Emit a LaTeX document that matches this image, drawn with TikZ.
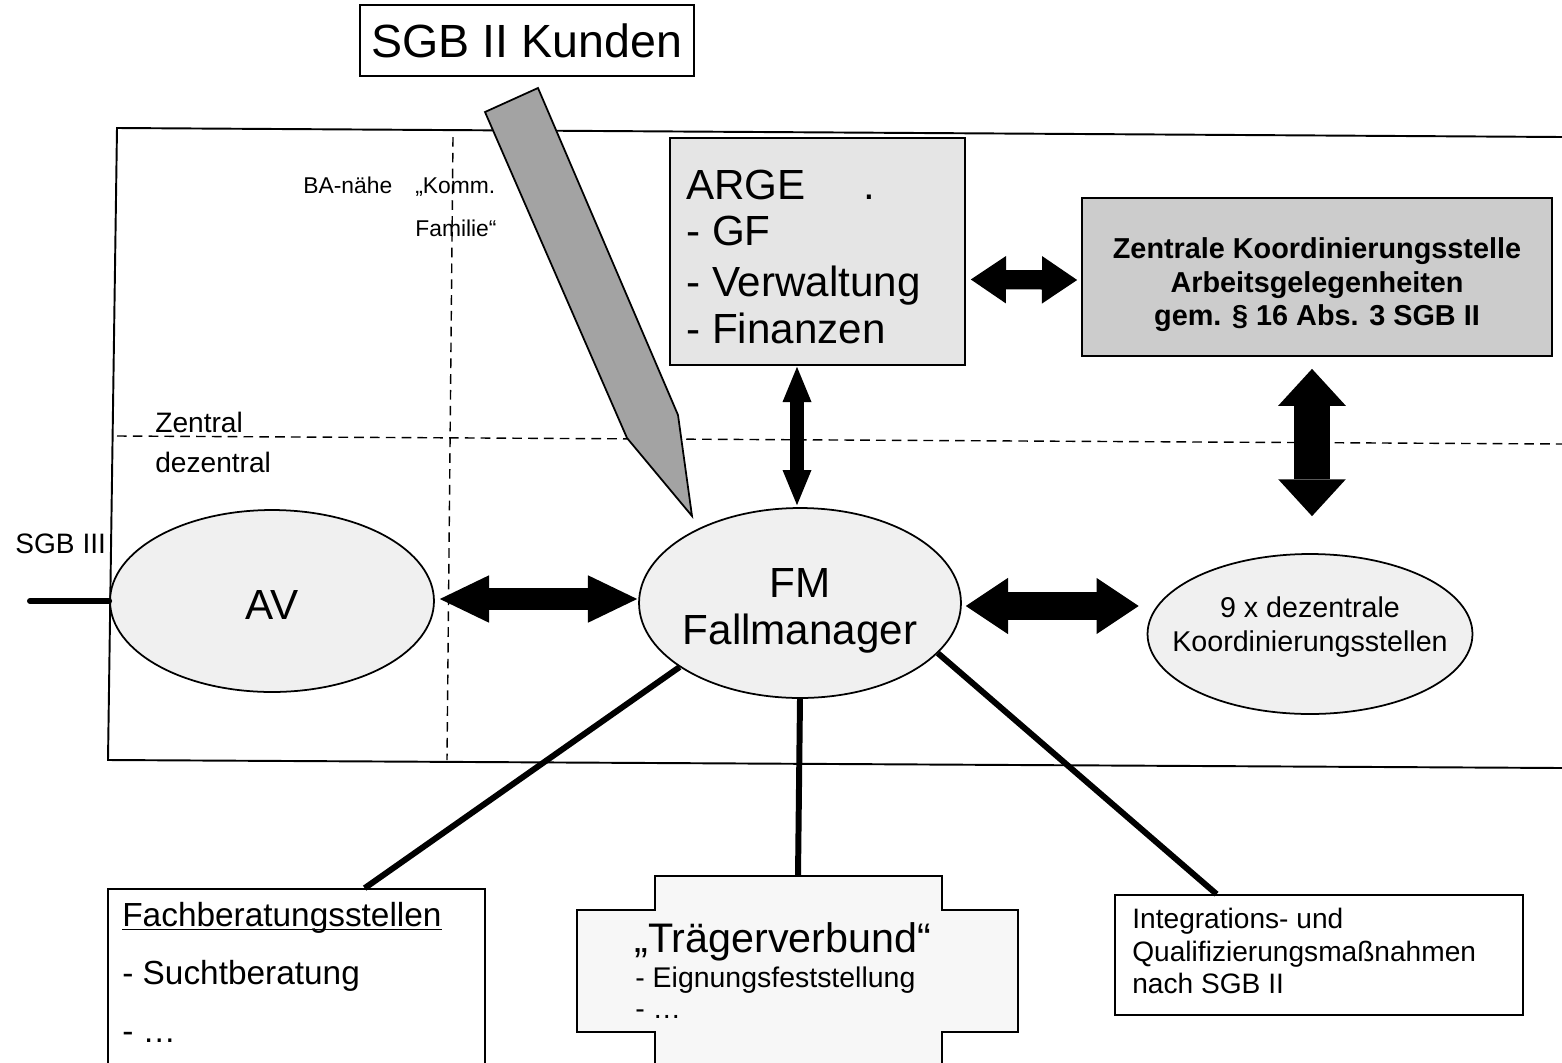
\documentclass[tikz,border=0pt]{standalone}
\usepackage{fontspec}
\setmainfont{Liberation Sans}
\usetikzlibrary{arrows.meta,calc,shapes.geometric}
\definecolor{pencilfill}{gray}{0.64}
\definecolor{zksfill}{gray}{0.80}
\definecolor{argefill}{gray}{0.90}
\definecolor{ellfill}{gray}{0.94}
\definecolor{tragfill}{gray}{0.97}
\tikzset{
  box/.style={draw, line width=1pt, rectangle, inner sep=0pt, fill=white},
  ell/.style={draw, line width=1pt, ellipse, inner sep=0pt, fill=ellfill},
  conn/.style={line width=3.4pt},
  txt/.style={inner sep=0pt, anchor=base west},
  ctxt/.style={inner sep=0pt, anchor=base},
  frame/.style={line width=1.1pt},
  grid/.style={line width=0.8pt, dash pattern=on 5.5pt off 3.5pt},
  dbl/.style n args={3}{line width=#1,
    {Triangle[width=#2,length=#3,line width=0pt]}-{Triangle[width=#2,length=#3,line width=0pt]}}
}
\newcommand{\fs}[2]{\fontsize{#1}{#2}\selectfont}
\newcommand{\myul}[1]{\setbox0\hbox{#1}\rlap{\rule[-2.4pt]{\wd0}{0.9pt}}\box0}
\begin{document}
\begin{tikzpicture}[x=0.02cm,y=-0.02cm]
\useasboundingbox (0,0) rectangle (1562,1062);
\clip (0,0) rectangle (1562,1062);

% frame and zone lines
\draw[frame] (1562,137) -- (117,128) -- (108,760) -- (1562,768);
\draw[grid] (117,436) -- (1562,444);
\draw[grid] (453,137) -- (447,760);

% zone labels
\node[txt] (ba) at (303,193) {\fs{13}{15}BA-nähe};
\node[txt] (komm) at (415,193) {\fs{13}{15}„Komm.};
\node[txt] (fam) at (415,236) {\fs{13}{15}Familie“};
\node[txt] (zen) at (155,432) {\fs{16}{19}Zentral};
\node[txt] (dezl) at (155,472) {\fs{16}{19}dezentral};
\node[txt] (sgb3) at (15,553) {\fs{16}{19}SGB III};

% customers box and pencil
\node[box, minimum width=6.68cm, minimum height=1.42cm] (kunden) at (527,40.5) {};
\node[ctxt] (kundentxt) at (527,57) {\fs{26.5}{30}SGB II Kunden};
\filldraw[fill=pencilfill, line width=1pt, line join=miter]
  (485,112) -- (538,88) -- (678,415) -- (692,516) -- (627,438) -- cycle;

% ARGE
\node[box, fill=argefill, minimum width=5.9cm, minimum height=4.54cm] (arge) at (817.5,251.5) {};
\node[txt] (a1) at (686,199) {\fs{24}{28}ARGE \hspace{26pt}.};
\node[txt] (a2) at (686,245) {\fs{24}{28}- GF};
\node[txt] (a3) at (686,296) {\fs{24}{28}- Verwaltung};
\node[txt] (a4) at (686,343) {\fs{24}{28}- Finanzen};

% Zentrale Koordinierungsstelle
\node[box, fill=zksfill, minimum width=9.4cm, minimum height=3.16cm] (zks) at (1317,277) {};
\node[ctxt] (z1) at (1317,258) {\fs{16.4}{19}\bfseries Zentrale Koordinierungsstelle};
\node[ctxt] (z2) at (1317,292) {\fs{16.4}{19}\bfseries Arbeitsgelegenheiten};
\node[ctxt] (z3) at (1317,325) {\fs{16.4}{19}\bfseries gem. § 16 Abs. 3 SGB II};

% ellipses
\node[ell, minimum width=6.48cm, minimum height=3.64cm] (av) at (272,601) {};
\node[ctxt] (avtxt) at (272,619) {\fs{24}{28}AV};
\node[ell, minimum width=6.44cm, minimum height=3.8cm] (fm) at (800,603) {};
\node[ctxt] (fm1) at (800,597) {\fs{24}{28}FM};
\node[ctxt] (fm2) at (800,644) {\fs{24}{28}Fallmanager};
\node[ell, minimum width=6.5cm, minimum height=3.2cm] (dez) at (1310,634) {};
\node[ctxt] (d1) at (1310,617) {\fs{16.3}{19}9 x dezentrale};
\node[ctxt] (d2) at (1310,651) {\fs{16.3}{19}Koordinierungsstellen};

% SGB III line
\coordinate (sgbend) at (30,601);
\draw[conn, line cap=round] (sgbend) -- (av.west);

% block arrows
\draw[dbl={13pt}{27pt}{28pt}] ($(av.east)+(5,-2)$) -- ($(fm.west)+(-1,-4)$);
\draw[dbl={16pt}{32pt}{24pt}] ($(fm.east)+(4,3)$) -- ($(dez.west)+(-8,-28)$);
\draw[dbl={8pt}{16.5pt}{20pt}] ($(arge.south)+(-20.5,1)$) -- ($(fm.north)+(-3,-2)$);
\draw[dbl={20pt}{38.5pt}{21pt}] ($(zks.south)+(-5,12)$) -- ($(dez.north)+(2,-37)$);
\draw[dbl={11pt}{27pt}{20pt}] ($(arge.east)+(5,28)$) -- ($(zks.west)+(-4,3)$);

% bottom boxes
\node[box, minimum width=7.54cm, minimum height=4.22cm] (fach) at (296.5,994.5) {};
\node[txt] (f1) at (122,926) {\fs{19}{22}\myul{Fachberatungsstellen}};
\node[txt] (f2) at (122,984) {\fs{19}{22}- Suchtberatung};
\node[txt] (f3) at (122,1042) {\fs{19}{22}- …};

\filldraw[fill=tragfill, line width=1pt]
  (655,1100) -- (655,1032) -- (577,1032) -- (577,910) -- (655,910) -- (655,876)
  -- (942,876) -- (942,910) -- (1018,910) -- (1018,1032) -- (942,1032) -- (942,1100) -- cycle;
\coordinate (tragtop) at (798,876);
\node[txt] (t1) at (634,952) {\fs{23.5}{26}„Trägerverbund“};
\node[txt] (t2) at (635,987) {\fs{16.2}{19}- Eignungsfeststellung};
\node[txt] (t3) at (635,1018) {\fs{16.2}{19}- …};

\node[box, minimum width=8.16cm, minimum height=2.4cm] (integ) at (1319,955) {};
\node[txt] (i1) at (1132,928) {\fs{16}{19}Integrations- und};
\node[txt] (i2) at (1132,961) {\fs{16}{19}Qualifizierungsmaßnahmen};
\node[txt] (i3) at (1132,993) {\fs{16}{19}nach SGB II};

% connectors
\draw[conn] (fm.208) -- ($(fach.north west)!0.68!(fach.north east)$);
\draw[conn] (fm.south) -- (tragtop);
\draw[conn] (fm.340) -- ($(integ.north west)!0.25!(integ.north east)$);
\end{tikzpicture}
\end{document}
